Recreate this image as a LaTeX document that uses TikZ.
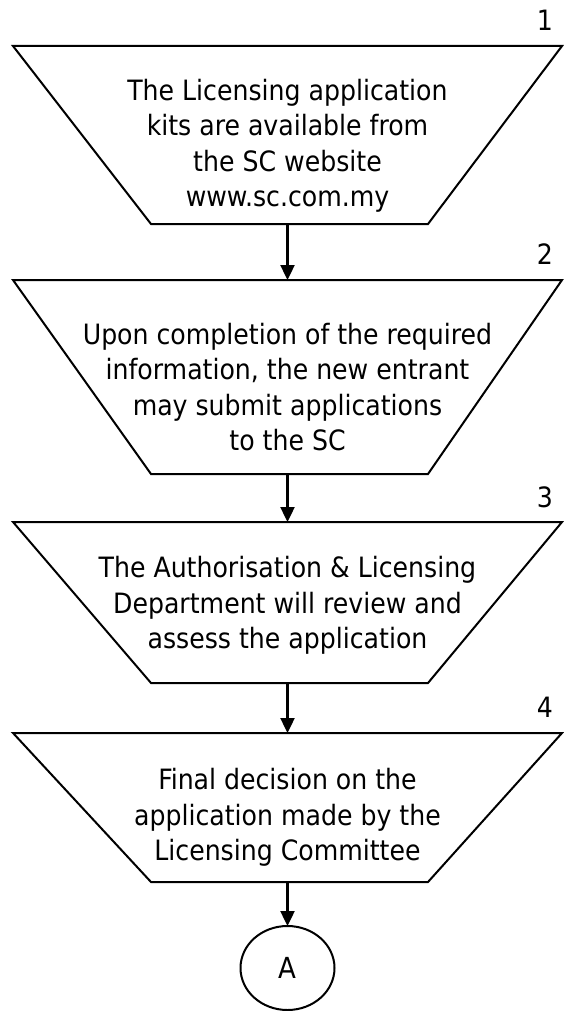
\documentclass[tikz,border=0pt]{standalone}
\usepackage{fontspec}
\setmainfont{DejaVu Sans Condensed}
\usetikzlibrary{shapes.geometric,arrows.meta}
\begin{document}
\begin{tikzpicture}[x=1pt,y=-1pt,
  frame/.style={draw=none, minimum width=549pt, inner sep=0pt, outer sep=0pt},
  edge/.style={line width=2pt, line join=miter},
  txt/.style={font=\fontsize{28}{35.5}\selectfont, align=center, inner sep=0pt},
  num/.style={font=\fontsize{28}{35.5}\selectfont, inner sep=0pt},
  flow/.style={line width=2.4pt, -{Triangle[length=15pt,width=14pt]}},
  conn/.style={ellipse, draw, line width=2pt, minimum width=94pt, minimum height=84pt,
               inner sep=0pt, outer sep=0pt, font=\fontsize{29}{35}\selectfont}
]
\useasboundingbox (0,0) rectangle (563,1011);

% stage frames (wide top edge, narrow bottom edge)
\node[frame, minimum height=178pt] (s1) at (287.5,135) {};
\node[frame, minimum height=194pt] (s2) at (287.5,377) {};
\node[frame, minimum height=161pt] (s3) at (287.5,602.5) {};
\node[frame, minimum height=149pt] (s4) at (287.5,807.5) {};

\foreach \s in {s1,s2,s3,s4}{
  \draw[edge] (\s.north west) -- (\s.north east)
    -- ([xshift=-134pt]\s.south east) -- ([xshift=138pt]\s.south west) -- cycle;
}

% stage texts
\node[txt] (t1) at ([yshift=-11pt]s1.center)
  {The Licensing application\\kits are available from\\the SC website\\www.sc.com.my};
\node[txt] (t2) at ([yshift=-10pt]s2.center)
  {Upon completion of the required\\information, the new entrant\\may submit applications\\to the SC};
\node[txt] (t3) at ([yshift=-3pt]s3.center)
  {The Authorisation \& Licensing\\Department will review and\\assess the application};
\node[txt] (t4) at ([yshift=-10pt]s4.center)
  {Final decision on the\\application made by the\\Licensing Committee};

% step numbers
\node[num] (n1) at (545,20) {1};
\node[num] (n2) at (545,254) {2};
\node[num] (n3) at (545,497) {3};
\node[num] (n4) at (545,707) {4};

% off-page connector
\node[conn] (A) at (287.5,968) {A};

% flow arrows
\draw[flow] (s1.south) -- (s2.north);
\draw[flow] (s2.south) -- (s3.north);
\draw[flow] (s3.south) -- (s4.north);
\draw[flow] (s4.south) -- (A.north);
\end{tikzpicture}
\end{document}
